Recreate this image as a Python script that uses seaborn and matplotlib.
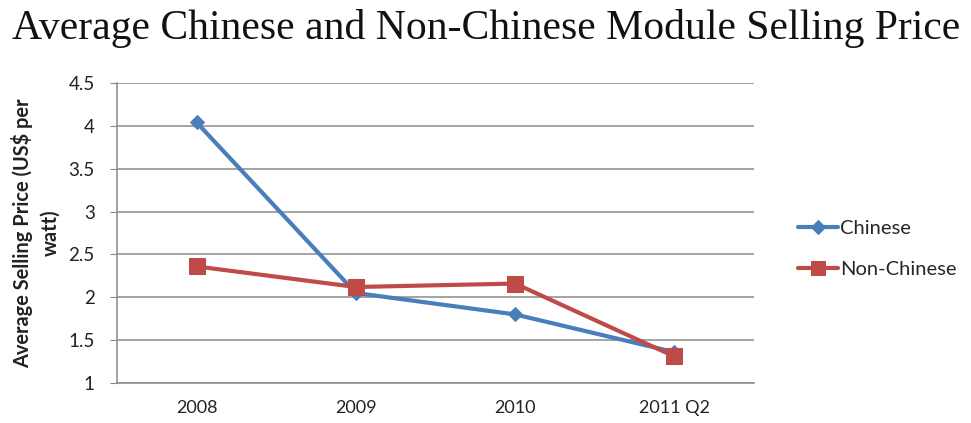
import matplotlib
matplotlib.use("Agg")
import matplotlib.pyplot as plt
import seaborn as sns
import pandas as pd

categories = ["2008", "2009", "2010", "2011 Q2"]
chinese = [4.04, 2.05, 1.80, 1.36]
non_chinese = [2.36, 2.12, 2.16, 1.31]
series_names = ["Chinese", "Non-Chinese"]
yticks = [1, 1.5, 2, 2.5, 3, 3.5, 4, 4.5]
ytick_labels = ["1", "1.5", "2", "2.5", "3", "3.5", "4", "4.5"]

df = pd.DataFrame({
    "cat": categories * 2,
    "x": list(range(len(categories))) * 2,
    "value": chinese + non_chinese,
    "series": [series_names[0]] * len(categories) + [series_names[1]] * len(categories),
})

sns.set_style("white")
plt.rcParams["font.family"] = ["Lato", "DejaVu Sans"]

fig = plt.figure(figsize=(9.71, 4.23), dpi=100)
ax = fig.add_axes([117 / 971, 1 - 383 / 423, (754 - 117) / 971, (383 - 83) / 423])

palette = {"Chinese": "#4A7EBB", "Non-Chinese": "#BE4B48"}
markers = {"Chinese": "D", "Non-Chinese": "s"}
sizes = {"Chinese": 7.5, "Non-Chinese": 11}
for name in series_names:
    sub = df[df["series"] == name]
    sns.lineplot(data=sub, x="x", y="value", ax=ax, color=palette[name],
                 marker=markers[name], markersize=sizes[name], linewidth=3,
                 markeredgecolor=palette[name], label=name, legend=False)

ax.set_xlim(-0.5, len(categories) - 0.5)
ax.set_ylim(1, 4.5)
ax.set_yticks(yticks)
ax.set_yticklabels(ytick_labels, fontsize=13.5, color="#222222")
ax.set_xticks(range(len(categories)))
ax.set_xticklabels(categories, fontsize=13, color="#222222")
ax.set_xticks([-0.5, 0.5, 1.5, 2.5, 3.5], minor=True)
ax.tick_params(axis="x", which="major", length=0, pad=12)
ax.tick_params(axis="x", which="minor", length=5, color="#888888", direction="out")
ax.tick_params(axis="y", length=5, color="#888888", direction="out", pad=11, left=True)
ax.grid(axis="y", color="#8c8c8c", linewidth=1.1)
ax.set_axisbelow(True)
for s in ["top", "right"]:
    ax.spines[s].set_visible(False)
for s in ["left", "bottom"]:
    ax.spines[s].set_color("#888888")
    ax.spines[s].set_linewidth(1.1)
ax.set_xlabel("")
ax.set_ylabel("Average Selling Price (US$ per\nwatt)", fontsize=14.4, fontweight="bold",
              color="#222222", linespacing=1.45, labelpad=6)

handles, labels = ax.get_legend_handles_labels()
fig.legend(handles, labels, loc="center left", bbox_to_anchor=(780 / 971, 1 - 249 / 423),
           frameon=False, fontsize=14.5, handlelength=2.0, handletextpad=0.1,
           labelspacing=1.2, markerscale=0.9)

fig.text(486 / 971, 1 - 28 / 423, "Average Chinese and Non-Chinese Module Selling Price",
         ha="center", va="center", fontsize=30, family=["Liberation Serif"], color="#111111")

fig.savefig("out.png", dpi=100, facecolor="white")
